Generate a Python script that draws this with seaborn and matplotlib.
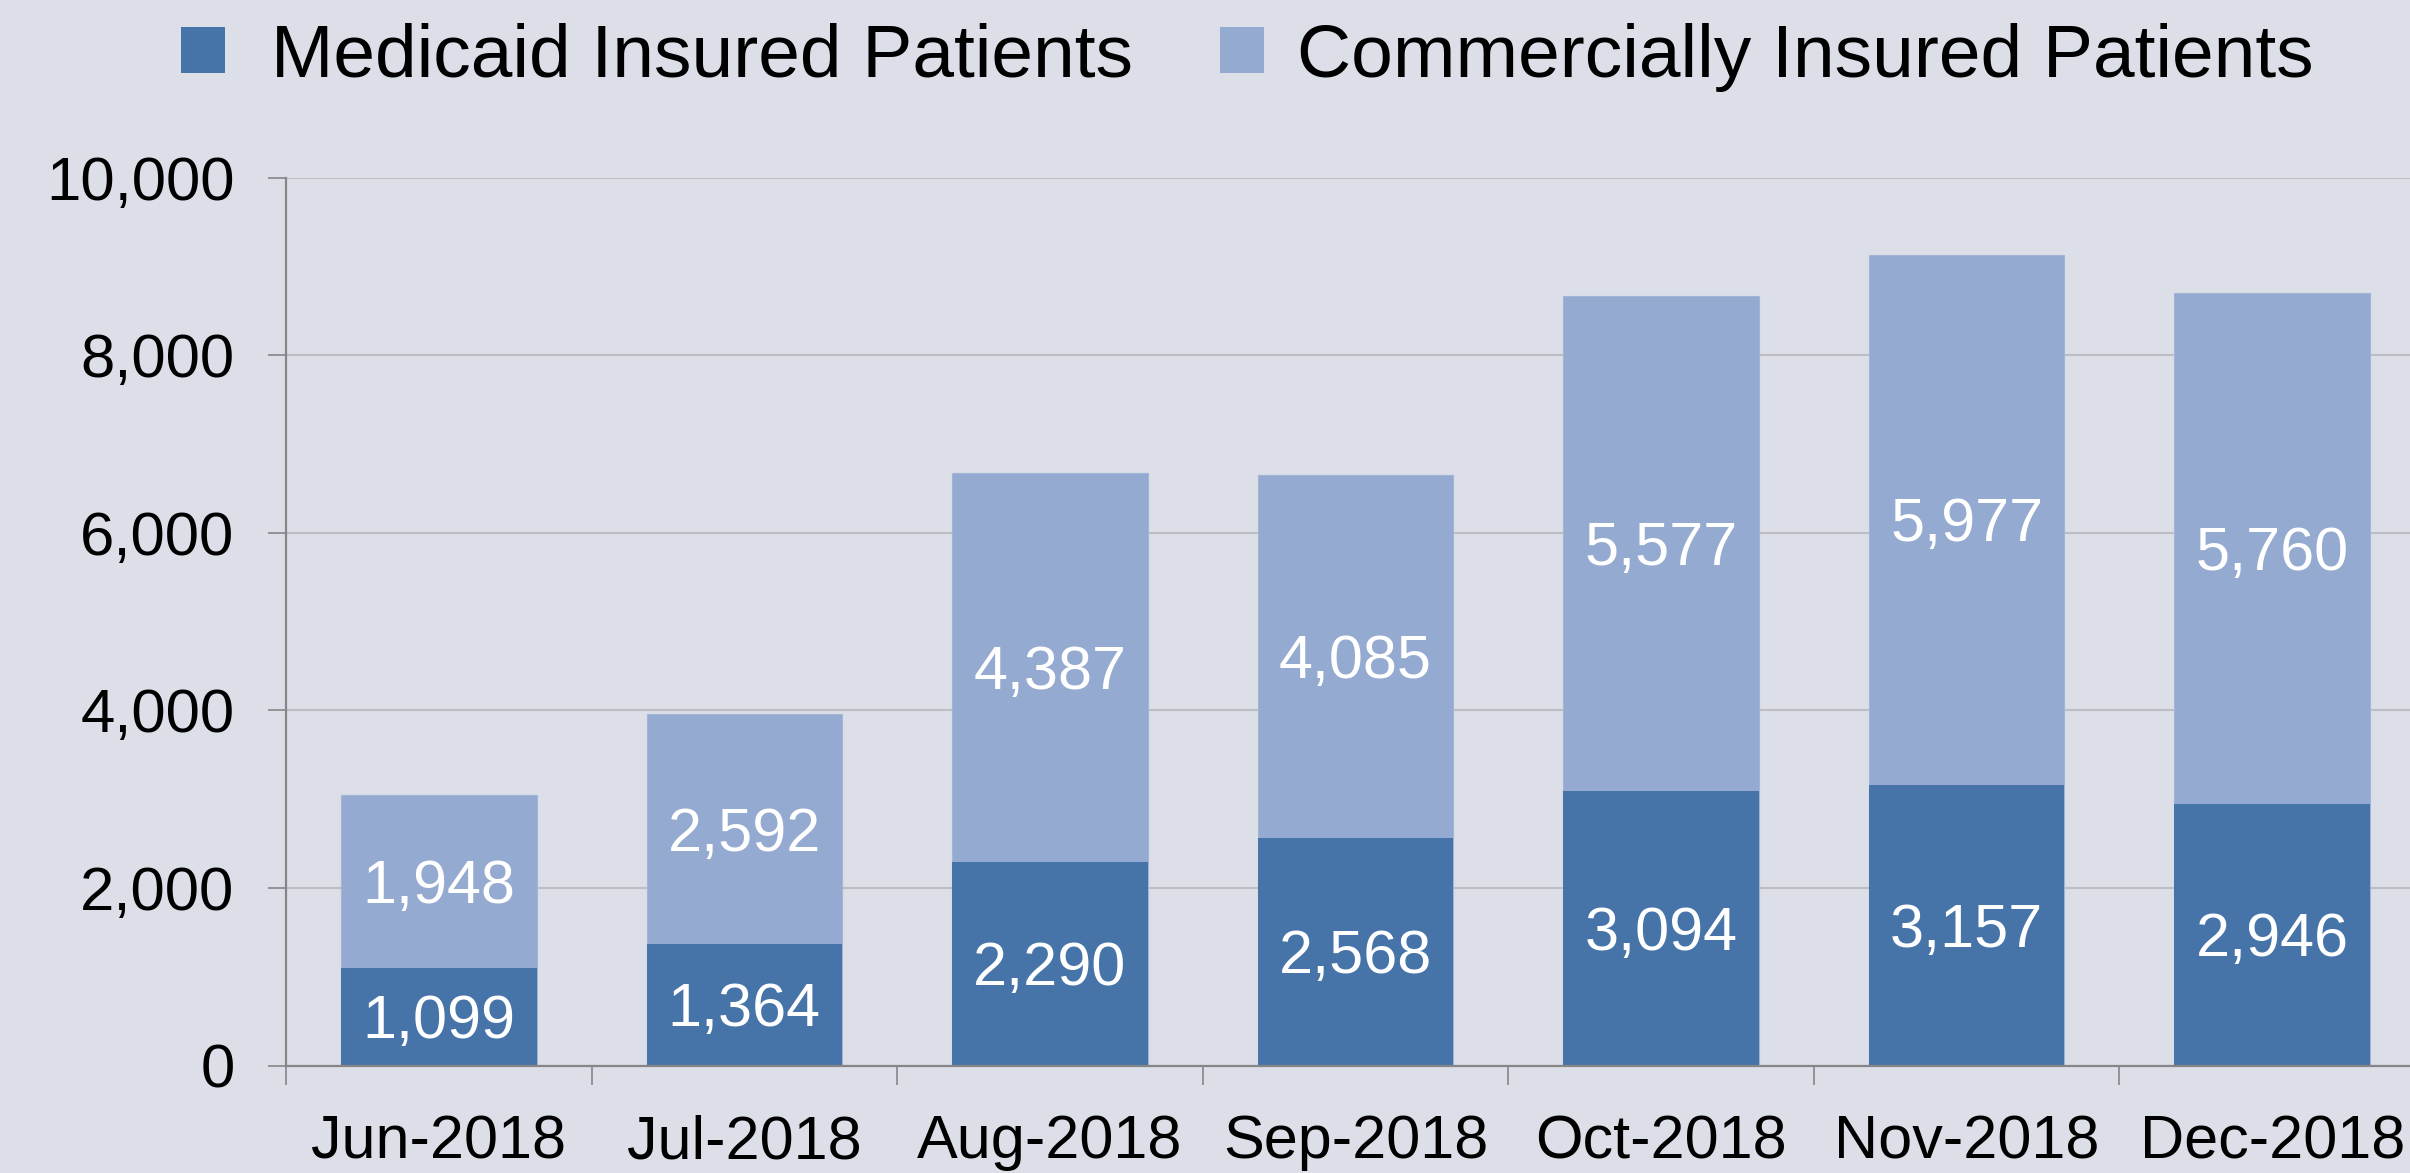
import matplotlib
matplotlib.use("Agg")
import matplotlib.pyplot as plt
import matplotlib.transforms as mtransforms
import seaborn as sns
import pandas as pd
import numpy as np
from matplotlib.patches import Patch
from matplotlib.ticker import FuncFormatter, FixedLocator

months = ["Jun-2018", "Jul-2018", "Aug-2018", "Sep-2018", "Oct-2018", "Nov-2018", "Dec-2018"]
medicaid = [1099, 1364, 2290, 2568, 3094, 3157, 2946]
commercial = [1948, 2592, 4387, 4085, 5577, 5977, 5760]
series_names = ["Medicaid Insured Patients", "Commercially Insured Patients"]
yticks = [0, 2000, 4000, 6000, 8000, 10000]

BG = "#DCDFE8"
DARK = "#4674A8"
LIGHT = "#95AAD0"
GRID = "#BDBEC3"
AXIS = "#868686"

sns.set_theme(style="white")
plt.rcParams["font.family"] = ["Liberation Sans", "DejaVu Sans"]
plt.rcParams["text.color"] = "black"

df = pd.DataFrame({"month": months, "medicaid": medicaid, "commercial": commercial})
df["total"] = df["medicaid"] + df["commercial"]

fig = plt.figure(figsize=(24.10, 11.73), dpi=100, facecolor=BG)
ax = fig.add_axes([286 / 2410, 1 - 1065.5 / 1173, 2139 / 2410, (1065.5 - 177.7) / 1173])
ax.set_facecolor(BG)

sns.barplot(data=df, x="month", y="total", color=LIGHT, saturation=1, width=0.64, ax=ax, zorder=2,
            linewidth=0.8, edgecolor="#A3B5D6")
sns.barplot(data=df, x="month", y="medicaid", color=DARK, saturation=1, width=0.64, ax=ax, zorder=3,
            linewidth=0)

ax.set_xlim(-0.5, len(months) - 0.5)
ax.set_ylim(0, 10000)
ax.set_yticks(yticks)
ax.yaxis.set_major_formatter(FuncFormatter(lambda v, p: f"{int(v):,}"))
ax.set_xlabel("")
ax.set_ylabel("")

ax.yaxis.grid(True, color=GRID, lw=1.5, zorder=0)
ax.set_axisbelow(True)
for s in ["top", "right"]:
    ax.spines[s].set_visible(False)
for s in ["left", "bottom"]:
    ax.spines[s].set_color(AXIS)
    ax.spines[s].set_linewidth(1.6)
    ax.spines[s].set_zorder(4)

ax.tick_params(axis="y", which="major", direction="out", length=13, width=1.2, color=AXIS,
               labelsize=44.5, pad=24, left=True, labelcolor="black")
ax.tick_params(axis="x", which="major", length=0, labelsize=44, pad=35, labelcolor="black")
ax.xaxis.set_minor_locator(FixedLocator(np.arange(-0.5, len(months), 1.0)))
ax.tick_params(axis="x", which="minor", direction="out", length=14, width=1.2, color=AXIS, bottom=True)

off = mtransforms.ScaledTranslation(0, -6 / 100, fig.dpi_scale_trans)
for i, (m, c) in enumerate(zip(medicaid, commercial)):
    ax.text(i, m / 2, f"{m:,}", ha="center", va="center", color="white", fontsize=44, zorder=5,
            transform=ax.transData + off)
    ax.text(i, m + c / 2, f"{c:,}", ha="center", va="center", color="white", fontsize=44, zorder=5,
            transform=ax.transData + off)

colors = [DARK, LIGHT]
legend_x = [181 / 2410, 1220 / 2410]
text_pad = [0.62, 0.45]
for name, col, lx, tp in zip(series_names, colors, legend_x, text_pad):
    leg = fig.legend([Patch(facecolor=col, edgecolor="none")], [name], loc="center left",
                     bbox_to_anchor=(lx, 1 - 57 / 1173), frameon=False, fontsize=54,
                     handlelength=0.58, handleheight=0.58, handletextpad=tp,
                     borderpad=0, borderaxespad=0)
    for t in leg.get_texts():
        t.set_color("black")

fig.savefig("out.png", dpi=100, facecolor=BG)
